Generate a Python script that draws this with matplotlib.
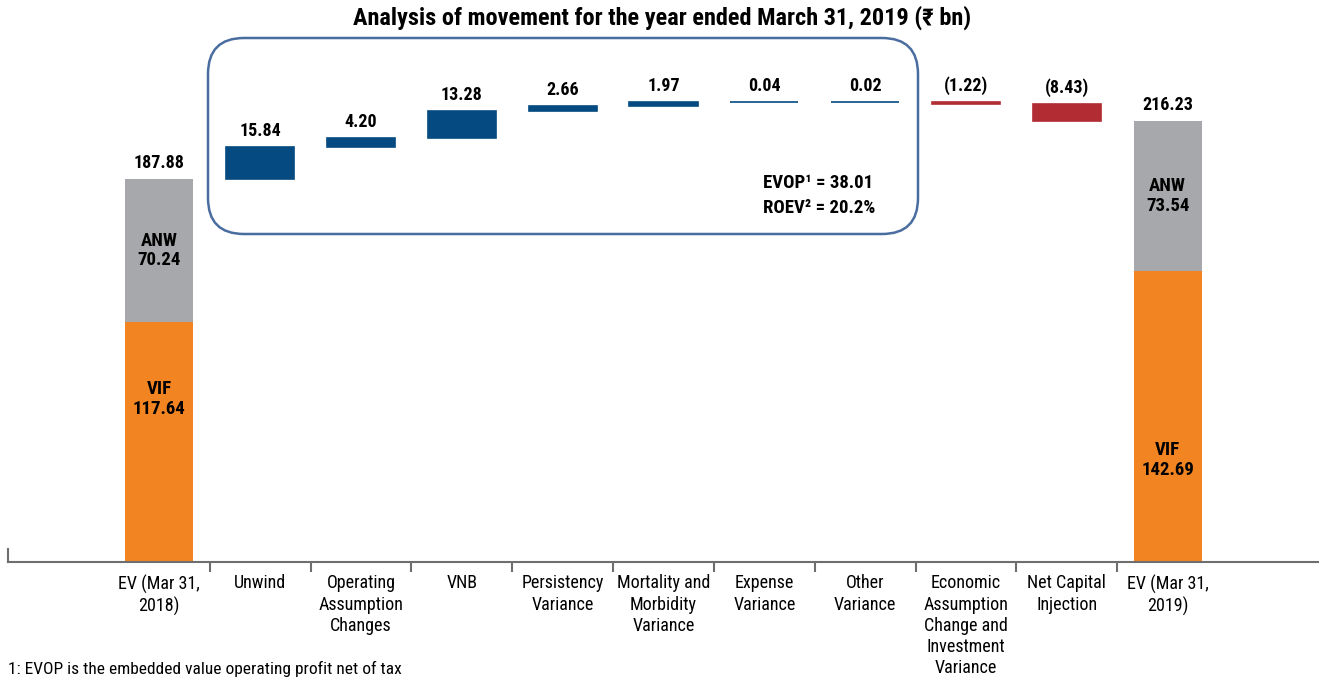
import numpy as np
import matplotlib.pyplot as plt
from matplotlib import font_manager
from matplotlib.patches import FancyBboxPatch

# pick a condensed face if one is available
names = {f.name for f in font_manager.fontManager.ttflist}
FONT = ['DejaVu Sans']
for cand in ['Roboto Condensed', 'Liberation Sans Narrow', 'Barlow Condensed']:
    if cand in names:
        FONT = [cand, 'DejaVu Sans']
        break
plt.rcParams['font.family'] = FONT

categories = ['EV (Mar 31,\n2018)', 'Unwind', 'Operating\nAssumption\nChanges', 'VNB',
              'Persistency\nVariance', 'Mortality and\nMorbidity\nVariance',
              'Expense\nVariance', 'Other\nVariance',
              'Economic\nAssumption\nChange and\nInvestment\nVariance',
              'Net Capital\nInjection', 'EV (Mar 31,\n2019)']
movements = [15.84, 4.20, 13.28, 2.66, 1.97, 0.04, 0.02, -1.22, -8.43]
ev_open = 187.88
ev_close = 216.23
vif = [117.64, 142.69]
anw = [70.24, 73.54]

ORANGE = '#F28522'
GREY = '#A7A8AB'
BLUE = '#054A80'
RED = '#B22C33'
AXIS = '#6E6E6E'

W, H = 1319, 679
fig = plt.figure(figsize=(W / 100, H / 100), dpi=100)
ax = fig.add_axes([8 / W, 117 / H, 1 - 8 / W, 530 / H])
ax.set_xlim(-1.5, 11.5)
ax.set_ylim(0, 260)

bw = 0.675

# opening / closing EV as stacked VIF + ANW
for i, x in enumerate([0, 10]):
    ax.bar(x, vif[i], bw, color=ORANGE, linewidth=0)
    ax.bar(x, anw[i], bw, bottom=vif[i], color=GREY, linewidth=0)
    total = vif[i] + anw[i]
    ax.annotate(f'{total:.2f}', (x, total), xytext=(0, 5), textcoords='offset points',
                ha='center', va='bottom', fontsize=13, fontweight='bold')
    ax.text(x, vif[i] + anw[i] / 2, f'ANW\n{anw[i]:.2f}', ha='center', va='center',
            fontsize=13.5, fontweight='bold', linespacing=1.1)
vif_frac = [0.68, 0.35]
for i, x in enumerate([0, 10]):
    ax.text(x, vif[i] * vif_frac[i], f'VIF\n{vif[i]:.2f}', ha='center', va='center',
            fontsize=13.5, fontweight='bold', linespacing=1.1)

# floating movement bars
level = ev_open
for j, v in enumerate(movements):
    x = j + 1
    bottom = level if v >= 0 else level + v
    col = BLUE if v >= 0 else RED
    ax.bar(x, abs(v), bw, bottom=bottom, color=col, edgecolor=col, linewidth=1.2)
    label = f'{v:.2f}' if v >= 0 else f'({abs(v):.2f})'
    ax.annotate(label, (x, bottom + abs(v)), xytext=(0, 5), textcoords='offset points',
                ha='center', va='bottom', fontsize=13, fontweight='bold')
    level += v

# axes styling
for s in ['top', 'right', 'left']:
    ax.spines[s].set_visible(False)
ax.spines['bottom'].set_color(AXIS)
ax.spines['bottom'].set_linewidth(1.5)
ax.set_yticks([])
ax.set_xticks(range(len(categories)))
ax.set_xticklabels(categories, fontsize=13, linespacing=1.23)
ax.tick_params(axis='x', which='major', length=0, pad=9)
ax.set_xticks(np.arange(0.5, 10, 1), minor=True)
ax.tick_params(axis='x', which='minor', length=7, width=1.5, color=AXIS)
ax.plot([-1.5, -1.5], [0, 6.5], color=AXIS, lw=1.5, clip_on=False)

# rounded box around operating items
box = FancyBboxPatch((2.08, (H - 234) / 100), 7.10, 1.96,
                     boxstyle='round,pad=0,rounding_size=0.36',
                     transform=fig.dpi_scale_trans, fill=False,
                     edgecolor='#4A6DA0', linewidth=1.8)
fig.add_artist(box)
fig.text(763 / W, 1 - 183 / H, 'EVOP¹ = 38.01', fontsize=13.5, fontweight='bold',
         ha='left', va='center')
fig.text(763 / W, 1 - 208 / H, 'ROEV² = 20.2%', fontsize=13.5, fontweight='bold',
         ha='left', va='center')

fig.text(662 / W, 1 - 18 / H, 'Analysis of movement for the year ended March 31, 2019 (₹ bn)',
         ha='center', va='center', fontsize=17.5, fontweight='bold')
fig.text(8 / W, 1 - 669 / H, '1: EVOP is the embedded value operating profit net of tax',
         ha='left', va='center', fontsize=12.5)

fig.savefig('out.png', dpi=100)
